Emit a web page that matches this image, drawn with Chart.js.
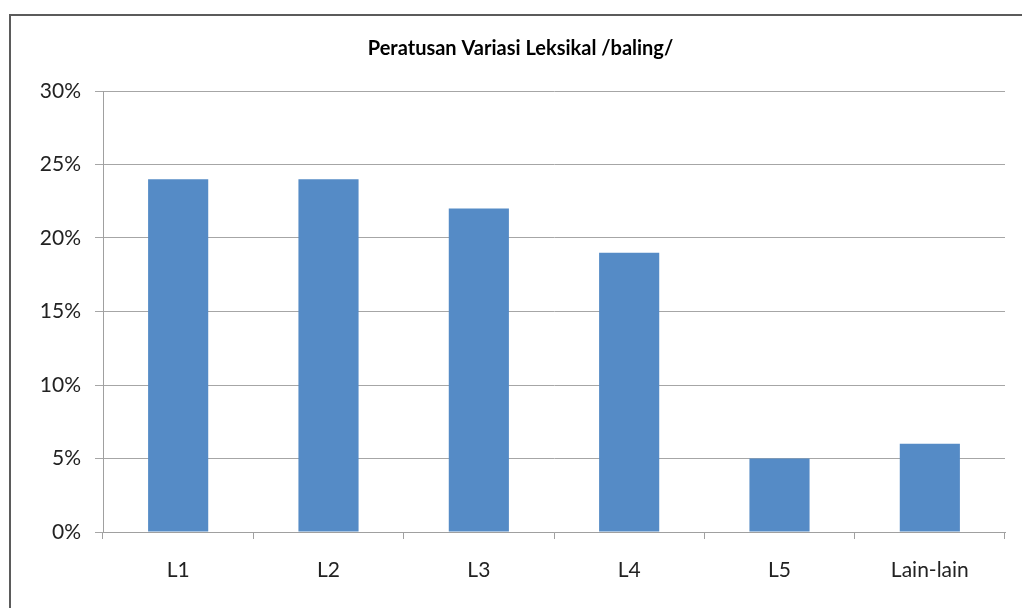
<!DOCTYPE html>
<html>
<head>
<meta charset="utf-8">
<script src="https://cdn.jsdelivr.net/npm/chart.js@4.4.1/dist/chart.umd.min.js"></script>
<style>
  html, body { margin: 0; padding: 0; background: #ffffff; overflow: hidden; }
  #wrap { position: relative; width: 1022px; height: 608px; }
  #frame { position: absolute; left: 9px; top: 14px; width: 1100px; height: 700px;
           border-left: 2px solid #5b5b5b; border-top: 2px solid #5b5b5b; box-sizing: border-box; }
  canvas { position: absolute; left: 0; top: 0; }
</style>
</head>
<body>
<div id="wrap">
  <div id="frame"></div>
  <canvas id="c" width="1022" height="608"></canvas>
</div>
<script>
const titleText = "Peratusan Variasi Leksikal /baling/";
const categories = ["L1", "L2", "L3", "L4", "L5", "Lain-lain"];
const percentValues = [0.24, 0.24, 0.22, 0.19, 0.05, 0.06];
const yTickValues = [0, 0.05, 0.10, 0.15, 0.20, 0.25, 0.30];

const FONT = "Lato, 'Open Sans', sans-serif";

new Chart(document.getElementById("c"), {
  type: "bar",
  data: {
    labels: categories,
    datasets: [{
      data: percentValues,
      backgroundColor: "#558BC6",
      borderWidth: 0,
      barPercentage: 0.4,
      categoryPercentage: 1.0
    }]
  },
  options: {
    responsive: false,
    animation: false,
    devicePixelRatio: 1,
    layout: { padding: { left: 36, right: 17, top: 0, bottom: 0 } },
    plugins: {
      legend: { display: false },
      tooltip: { enabled: false },
      title: {
        display: true,
        text: titleText,
        color: "#000000",
        font: { family: FONT, size: 20, weight: "bold", lineHeight: 1.2 },
        padding: { top: 37, bottom: 30 }
      }
    },
    scales: {
      x: {
        offset: true,
        grid: { offset: true, drawOnChartArea: false, color: "#a0a0a0", tickLength: 7, lineWidth: 1 },
        border: { color: "#a0a0a0", width: 1 },
        ticks: { color: "#222222", font: { family: FONT, size: 21 }, padding: 19, maxRotation: 0 },
        afterFit: (s) => { s.height = 76; }
      },
      y: {
        min: 0, max: 0.3,
        afterBuildTicks: (s) => { s.ticks = yTickValues.map(v => ({ value: v })); },
        grid: { color: "#a6a6a6", tickLength: 8, lineWidth: 1 },
        border: { color: "#a0a0a0", width: 1 },
        ticks: {
          color: "#222222",
          font: { family: FONT, size: 21 },
          padding: 14,
          callback: (v) => Math.round(v * 100) + "%"
        },
        afterFit: (s) => { s.width = 67; }
      }
    }
  }
});
</script>
</body>
</html>
